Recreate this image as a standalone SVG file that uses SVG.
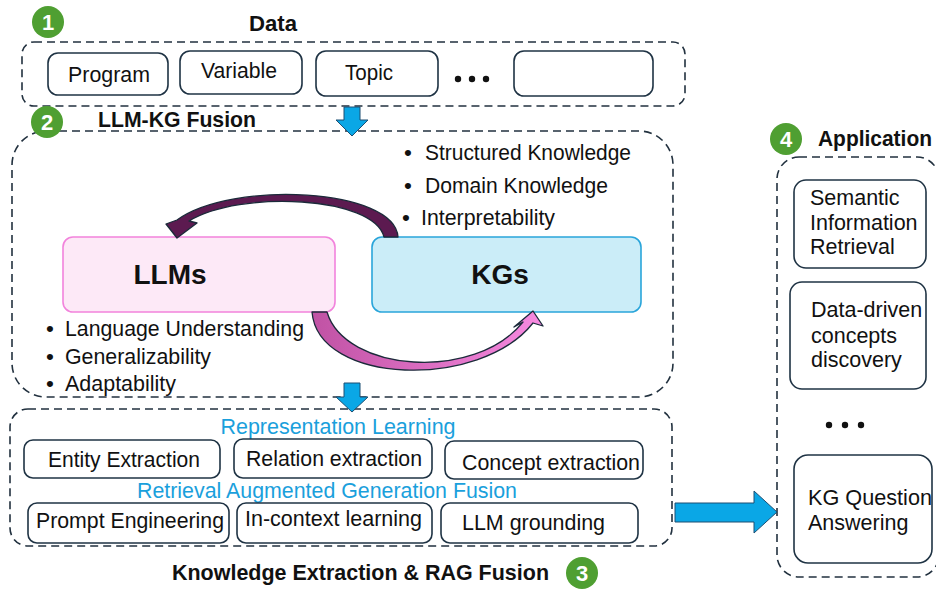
<svg xmlns="http://www.w3.org/2000/svg" width="936" height="590" viewBox="0 0 936 590">
  <defs>
    <style>
      text { font-family: "Liberation Sans", Arial, sans-serif; fill: #111; }
      .title { font-weight: bold; font-size: 22px; }
      .lbl { font-size: 22px; }
      .bul { font-size: 22.5px; }
      .sub { font-size: 22px; fill: #1aa0dc; }
      .app { font-size: 21.5px; }
      .group { fill: none; stroke: #22313f; stroke-width: 1.6; stroke-dasharray: 8 5; }
      .box { fill: #fff; stroke: #1f3344; stroke-width: 1.6; }
      .badge circle { fill: #4f9f32; }
      .badge text { fill: #fff; font-weight: bold; font-size: 22px; text-anchor: middle; }
      .flow { fill: #0aa7e6; stroke: #1d4f72; stroke-width: 1; }
    </style>
    <linearGradient id="pinkFlow" x1="0" y1="0" x2="1" y2="0">
      <stop offset="0" stop-color="#c052a4"/>
      <stop offset="1" stop-color="#f78ae0"/>
    </linearGradient>
  </defs>

  <!-- section frames -->
  <g id="frames">
    <rect class="group" x="22" y="42" width="663" height="64" rx="12"/>
    <rect class="group" x="12" y="131" width="661" height="266" rx="34"/>
    <rect class="group" x="10" y="409" width="662" height="137" rx="18"/>
    <rect class="group" x="777" y="157" width="162" height="420" rx="22"/>
  </g>

  <!-- numbered badges and section titles -->
  <g id="badge-1" class="badge"><circle cx="48" cy="22" r="16"/><text x="48" y="30">1</text></g>
  <g id="badge-2" class="badge"><circle cx="47" cy="122" r="16"/><text x="47" y="130">2</text></g>
  <g id="badge-3" class="badge"><circle cx="582" cy="573" r="16"/><text x="582" y="581">3</text></g>
  <g id="badge-4" class="badge"><circle cx="786" cy="139" r="16"/><text x="786" y="147">4</text></g>

  <text class="title" x="273" y="31" text-anchor="middle" textLength="48" lengthAdjust="spacingAndGlyphs">Data</text>
  <text class="title" x="98" y="127" textLength="158" lengthAdjust="spacingAndGlyphs">LLM-KG Fusion</text>
  <text class="title" x="172" y="580" textLength="377" lengthAdjust="spacingAndGlyphs">Knowledge Extraction &amp; RAG Fusion</text>
  <text class="title" x="818" y="146" textLength="114" lengthAdjust="spacingAndGlyphs">Application</text>

  <!-- data sources -->
  <g id="data-program"><rect class="box" x="48" y="53" width="120" height="42" rx="10"/><text class="lbl" x="68" y="82" textLength="82" lengthAdjust="spacingAndGlyphs">Program</text></g>
  <g id="data-variable"><rect class="box" x="180" y="51" width="122" height="43" rx="10"/><text class="lbl" x="201" y="78" textLength="76" lengthAdjust="spacingAndGlyphs">Variable</text></g>
  <g id="data-topic"><rect class="box" x="316" y="51" width="122" height="45" rx="10"/><text class="lbl" x="345" y="80" textLength="48" lengthAdjust="spacingAndGlyphs">Topic</text></g>
  <g id="data-more">
    <circle cx="458" cy="79" r="3.2" fill="#111"/><circle cx="472" cy="79" r="3.2" fill="#111"/><circle cx="486" cy="79" r="3.2" fill="#111"/>
  </g>
  <g id="data-blank"><rect class="box" x="514" y="51" width="139" height="45" rx="10"/></g>

  <!-- LLM and KG -->
  <g id="llms">
    <rect x="63" y="237" width="272" height="75" rx="10" fill="#fde9f7" stroke="#f283dc" stroke-width="1.6"/>
    <text x="170" y="284" font-size="28" font-weight="bold" text-anchor="middle">LLMs</text>
  </g>
  <g id="kgs">
    <rect x="372" y="237" width="269" height="75" rx="10" fill="#cbedf8" stroke="#2aa5da" stroke-width="1.6"/>
    <text x="500" y="284" font-size="28" font-weight="bold" text-anchor="middle">KGs</text>
  </g>

  <g id="kg-traits">
    <text class="bul" x="404" y="160">•</text><text class="bul" x="425" y="160" textLength="206" lengthAdjust="spacingAndGlyphs">Structured Knowledge</text>
    <text class="bul" x="404" y="193">•</text><text class="bul" x="425" y="193" textLength="183" lengthAdjust="spacingAndGlyphs">Domain Knowledge</text>
    <text class="bul" x="402" y="225">•</text><text class="bul" x="421" y="225" textLength="134" lengthAdjust="spacingAndGlyphs">Interpretability</text>
  </g>
  <g id="llm-traits">
    <text class="bul" x="46" y="336">•</text><text class="bul" x="65" y="336" textLength="239" lengthAdjust="spacingAndGlyphs">Language Understanding</text>
    <text class="bul" x="46" y="364">•</text><text class="bul" x="65" y="364" textLength="146" lengthAdjust="spacingAndGlyphs">Generalizability</text>
    <text class="bul" x="46" y="391">•</text><text class="bul" x="65" y="391" textLength="111" lengthAdjust="spacingAndGlyphs">Adaptability</text>
  </g>

  <!-- extraction & RAG -->
  <text class="sub" x="338" y="434" text-anchor="middle" textLength="235" lengthAdjust="spacingAndGlyphs">Representation Learning</text>
  <text class="sub" x="327" y="498" text-anchor="middle" textLength="380" lengthAdjust="spacingAndGlyphs">Retrieval Augmented Generation Fusion</text>

  <g id="entity-extraction"><rect class="box" x="24" y="440" width="196" height="38" rx="9"/><text class="lbl" x="48" y="467" textLength="152" lengthAdjust="spacingAndGlyphs">Entity Extraction</text></g>
  <g id="relation-extraction"><rect class="box" x="234" y="439" width="198" height="39" rx="9"/><text class="lbl" x="246" y="466" textLength="176" lengthAdjust="spacingAndGlyphs">Relation extraction</text></g>
  <g id="concept-extraction"><rect class="box" x="445" y="441" width="198" height="38" rx="9"/><text class="lbl" x="462" y="470" textLength="178" lengthAdjust="spacingAndGlyphs">Concept extraction</text></g>
  <g id="prompt-engineering"><rect class="box" x="28" y="503" width="201" height="40" rx="9"/><text class="lbl" x="36" y="528" textLength="188" lengthAdjust="spacingAndGlyphs">Prompt Engineering</text></g>
  <g id="in-context-learning"><rect class="box" x="237" y="503" width="195" height="40" rx="9"/><text class="lbl" x="245" y="526" textLength="177" lengthAdjust="spacingAndGlyphs">In-context learning</text></g>
  <g id="llm-grounding"><rect class="box" x="441" y="503" width="197" height="40" rx="9"/><text class="lbl" x="462" y="530" textLength="143" lengthAdjust="spacingAndGlyphs">LLM grounding</text></g>

  <!-- applications -->
  <g id="app-semantic">
    <rect class="box" x="794" y="180" width="132" height="88" rx="12"/>
    <text class="app" x="810" y="205">Semantic</text>
    <text class="app" x="810" y="230">Information</text>
    <text class="app" x="810" y="254">Retrieval</text>
  </g>
  <g id="app-concepts">
    <rect class="box" x="790" y="282" width="136" height="107" rx="12"/>
    <text class="app" x="811" y="317">Data-driven</text>
    <text class="app" x="811" y="343">concepts</text>
    <text class="app" x="811" y="367">discovery</text>
  </g>
  <g id="app-more">
    <circle cx="829" cy="425" r="3.2" fill="#111"/><circle cx="845" cy="425" r="3.2" fill="#111"/><circle cx="861" cy="425" r="3.2" fill="#111"/>
  </g>
  <g id="app-kgqa">
    <rect class="box" x="794" y="455" width="138" height="108" rx="14"/>
    <text class="app" x="808" y="505" textLength="124" lengthAdjust="spacingAndGlyphs">KG Question</text>
    <text class="app" x="808" y="530">Answering</text>
  </g>

  <!-- connectors -->
  <g id="connectors">
    <!-- KGs feed LLMs -->
    <path d="M 398 237 C 395 188, 232 180, 177 220 L 166 224 L 177 238 L 197 223 L 189 221 C 240 190, 374 196, 384 237 Z" fill="#5c1a50" stroke="#1b2a3a" stroke-width="1.3" stroke-linejoin="round"/>
    <!-- LLMs feed KGs -->
    <path d="M 312 312 C 318 385, 480 390, 533 323 L 543 326 L 533 311 L 514 327 L 523 322 C 475 382, 345 372, 327 312 Z" fill="url(#pinkFlow)" stroke="#1b2a3a" stroke-width="1.3" stroke-linejoin="round"/>
    <!-- stage flow arrows -->
    <path class="flow" d="M 344 107 L 360 107 L 360 120 L 368 120 L 352 136 L 336 120 L 344 120 Z"/>
    <path class="flow" d="M 344 383 L 360 383 L 360 397 L 368 397 L 352 412 L 336 397 L 344 397 Z"/>
    <path class="flow" d="M 675 503 L 754 503 L 754 491 L 777 512 L 754 533 L 754 522 L 675 522 Z"/>
  </g>
</svg>
